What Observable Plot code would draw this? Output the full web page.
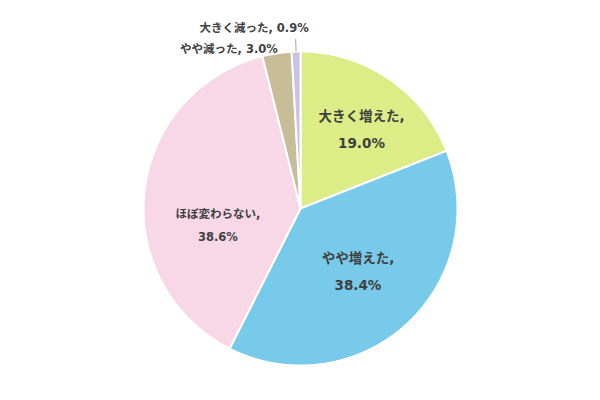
<!DOCTYPE html>
<html>
<head>
<meta charset="utf-8">
<script src="https://cdn.jsdelivr.net/npm/d3@7"></script>
<script src="https://cdn.jsdelivr.net/npm/@observablehq/plot@0.6"></script>
<style>
  html, body { margin: 0; padding: 0; background: #fff; }
  svg { display: block; }
</style>
</head>
<body>
<div id="chart"></div>
<script>
const categories = ["大きく増えた", "やや増えた", "ほぼ変わらない", "やや減った", "大きく減った"];
const values = [19.0, 38.4, 38.6, 3.0, 0.9];
const valueLabels = ["19.0%", "38.4%", "38.6%", "3.0%", "0.9%"];
const colors = ["#dcec86", "#78caea", "#f8d8e7", "#c8bd98", "#cac2e2"];

const total = d3.sum(values);
let acc = 0;
const slices = categories.map((c, i) => {
  const a0 = acc / total * 2 * Math.PI;
  acc += values[i];
  const a1 = acc / total * 2 * Math.PI;
  return {cat: c, value: values[i], label: valueLabels[i], a0, a1, mid: (a0 + a1) / 2};
});

// polygon points for each slice (angle measured clockwise from 12 o'clock)
const pts = [];
for (const s of slices) {
  pts.push({cat: s.cat, x: 0, y: 0});
  const n = Math.max(2, Math.ceil((s.a1 - s.a0) / (Math.PI / 360)));
  for (let k = 0; k <= n; k++) {
    const a = s.a0 + (s.a1 - s.a0) * k / n;
    pts.push({cat: s.cat, x: Math.sin(a), y: Math.cos(a)});
  }
  pts.push({cat: s.cat, x: 0, y: 0});
}

const at = (s, r) => ({x: r * Math.sin(s.mid), y: r * Math.cos(s.mid)});
const font = "'DejaVu Sans', 'Noto Sans CJK JP', sans-serif";
const textColor = "#404040";

const inside = (i, size, dx, dy) => Plot.text([slices[i]], {
  x: d => at(d, 0.6).x, y: d => at(d, 0.6).y,
  text: d => d.cat + ",\n" + d.label,
  fontSize: size, fontWeight: "bold", fill: textColor, lineHeight: 2,
  dx, dy, fontFamily: font
});

const s3 = slices[3], s4 = slices[4];

const chart = Plot.plot({
  width: 600, height: 400,
  marginLeft: 143, marginRight: 143, marginTop: 51, marginBottom: 35,
  x: {domain: [-1, 1], axis: null},
  y: {domain: [-1, 1], axis: null},
  color: {domain: categories, range: colors},
  style: {background: "#fff", fontFamily: font},
  marks: [
    Plot.line(pts, {x: "x", y: "y", z: "cat", fill: "cat", stroke: "white", strokeWidth: 2, strokeLinejoin: "miter", curve: "linear"}),
    inside(0, 13.5, 8, -5),
    inside(1, 13.5, -6, -10),
    inside(2, 11.5, 11, 24),
    Plot.link([s4], {
      x1: d => at(d, 1.0).x, y1: d => at(d, 1.0).y,
      x2: d => at(d, 1.08).x, y2: d => at(d, 1.08).y,
      stroke: "#a6a6a6", strokeWidth: 1
    }),
    Plot.text([s4], {
      x: d => at(d, 1.08).x, y: d => at(d, 1.08).y,
      text: d => d.cat + ", " + d.label, textAnchor: "end",
      fontSize: 11.5, fontWeight: "bold", fill: textColor, dx: 13, dy: -11, fontFamily: font
    }),
    Plot.text([s3], {
      x: d => at(d, 1.0).x, y: d => at(d, 1.0).y,
      text: d => d.cat + ", " + d.label, textAnchor: "end",
      fontSize: 11.5, fontWeight: "bold", fill: textColor, dx: 1, dy: -4, fontFamily: font
    })
  ]
});
document.getElementById("chart").append(chart);
</script>
</body>
</html>
